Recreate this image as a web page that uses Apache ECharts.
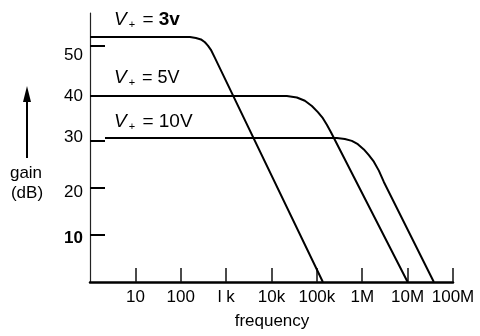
<!DOCTYPE html>
<html>
<head>
<meta charset="utf-8">
<script src="https://cdn.jsdelivr.net/npm/echarts@6/dist/echarts.min.js"></script>
<style>
  html, body { margin: 0; padding: 0; background: #fff; }
  #chart { width: 480px; height: 336px; }
</style>
</head>
<body>
<div id="chart"></div>
<script>
// Open-loop gain (dB) versus frequency (Hz) for three supply voltages
const freq3V = [1, 160, 216, 279, 341, 397, 462, 566, 135500];
const gain3V = [51.9, 51.9, 51.7, 51.4, 50.8, 50.1, 49.2, 47.5, 0];

const freq5V = [1, 21840, 36250, 54400, 77600, 105200, 135500, 166000, 203000, 10000000];
const gain5V = [39.4, 39.4, 39.1, 38.4, 37.3, 36.0, 34.7, 33.3, 31.8, 0];

const freq10V = [2.14, 276000, 414000, 590000, 800000, 1084000, 1397000, 1802000, 2322000, 2992000, 37800000];
const gain10V = [30.5, 30.5, 30.3, 29.9, 29.2, 28.1, 26.9, 25.5, 23.6, 21.2, 0];

// Axis ticks and their labels
const xTickValues = [10, 100, 1000, 10000, 100000, 1000000, 10000000, 100000000];
const xTickLabels = ['10', '100', 'l k', '10k', '100k', '1M', '10M', '100M'];
const yTickMarks = [10, 20, 30, 50];
const yTickValues = [10, 20, 30, 40, 50];

const FONT = 'Liberation Sans';
const pairs = (xs, ys) => xs.map((x, i) => [x, ys[i]]);

const chart = echarts.init(document.getElementById('chart'), null, { renderer: 'canvas' });

const curve = (name, xs, ys) => ({
  name,
  type: 'line',
  data: pairs(xs, ys),
  showSymbol: false,
  smooth: false,
  lineStyle: { color: '#000', width: 2, join: 'round' },
  silent: true,
  animation: false
});

// per-label nudges for the hand-lettered gain scale
const yLabelStyle = (extra) => Object.assign({ fontFamily: FONT, fontSize: 17, color: '#000' }, extra);

chart.setOption({
  animation: false,
  backgroundColor: '#fff',
  grid: { left: 90, right: 27, top: 13, bottom: 54, outerBoundsMode: 'none' },
  xAxis: {
    type: 'log',
    logBase: 10,
    min: 1,
    max: 100000000,
    axisLine: { lineStyle: { color: '#000', width: 2.5 } },
    axisTick: {
      inside: true,
      length: 14,
      customValues: xTickValues,
      lineStyle: { color: '#111', width: 1.5 }
    },
    axisLabel: {
      customValues: xTickValues,
      margin: 7,
      color: '#000',
      fontFamily: FONT,
      fontSize: 17,
      formatter: (v) => xTickLabels[Math.round(Math.log10(v)) - 1]
    },
    splitLine: { show: false },
    minorTick: { show: false }
  },
  yAxis: {
    type: 'value',
    min: 0,
    max: 57,
    axisLine: { show: true, lineStyle: { color: '#222', width: 1.2 } },
    axisTick: {
      show: true,
      inside: true,
      length: 15,
      customValues: yTickMarks,
      lineStyle: { color: '#000', width: 2 }
    },
    axisLabel: {
      customValues: yTickValues,
      margin: 7,
      color: '#000',
      fontFamily: FONT,
      fontSize: 17,
      formatter: (v) => '{r' + v + '|' + v + '}',
      rich: {
        r50: yLabelStyle({ padding: [18, 0, 0, 0] }),
        r40: yLabelStyle({ padding: [6, 0, 0, 0] }),
        r30: yLabelStyle({ padding: [0, 0, 6, 0] }),
        r20: yLabelStyle({ padding: [10, 0, 0, 0] }),
        r10: yLabelStyle({ padding: [8, 0, 0, 0], fontWeight: 'bold' })
      }
    },
    splitLine: { show: false }
  },
  series: [
    curve('3v', freq3V, gain3V),
    curve('5V', freq5V, gain5V),
    curve('10V', freq10V, gain10V)
  ],
  graphic: [
    // upward arrow beside the axis title
    { type: 'line', shape: { x1: 27, y1: 158, x2: 27, y2: 100 }, style: { stroke: '#000', lineWidth: 2 } },
    { type: 'polygon', shape: { points: [[27, 86], [23, 102], [31, 102]] }, style: { fill: '#000' } },
    { type: 'text', x: 26, y: 173, style: { text: 'gain', fontFamily: FONT, fontSize: 17, fill: '#000', align: 'center', verticalAlign: 'middle' } },
    { type: 'text', x: 27, y: 193, style: { text: '(dB)', fontFamily: FONT, fontSize: 17, fill: '#000', align: 'center', verticalAlign: 'middle' } },
    { type: 'text', x: 272, y: 321, style: { text: 'frequency', fontFamily: FONT, fontSize: 17, fill: '#000', align: 'center', verticalAlign: 'middle' } },
    // supply-voltage labels
    {
      type: 'text', x: 114, y: 20,
      style: {
        text: '{v|V}{s|+} = {b|3v}', fontFamily: FONT, fontSize: 19, fill: '#000', verticalAlign: 'middle',
        rich: {
          v: { fontStyle: 'italic', fontSize: 19, fontFamily: FONT },
          s: { fontSize: 11, fontFamily: FONT, padding: [10, 2, 0, 2] },
          b: { fontWeight: 'bold', fontSize: 19, fontFamily: FONT }
        }
      }
    },
    {
      type: 'text', x: 114, y: 78,
      style: {
        text: '{v|V}{s|+} = 5V', fontFamily: FONT, fontSize: 18, fill: '#000', verticalAlign: 'middle',
        rich: {
          v: { fontStyle: 'italic', fontSize: 19, fontFamily: FONT },
          s: { fontSize: 11, fontFamily: FONT, padding: [10, 2, 0, 2] }
        }
      }
    },
    {
      type: 'text', x: 114, y: 122,
      style: {
        text: '{v|V}{s|+} = 10V', fontFamily: FONT, fontSize: 19, fill: '#000', verticalAlign: 'middle',
        rich: {
          v: { fontStyle: 'italic', fontSize: 19, fontFamily: FONT },
          s: { fontSize: 11, fontFamily: FONT, padding: [10, 2, 0, 2] }
        }
      }
    }
  ]
});
</script>
</body>
</html>
